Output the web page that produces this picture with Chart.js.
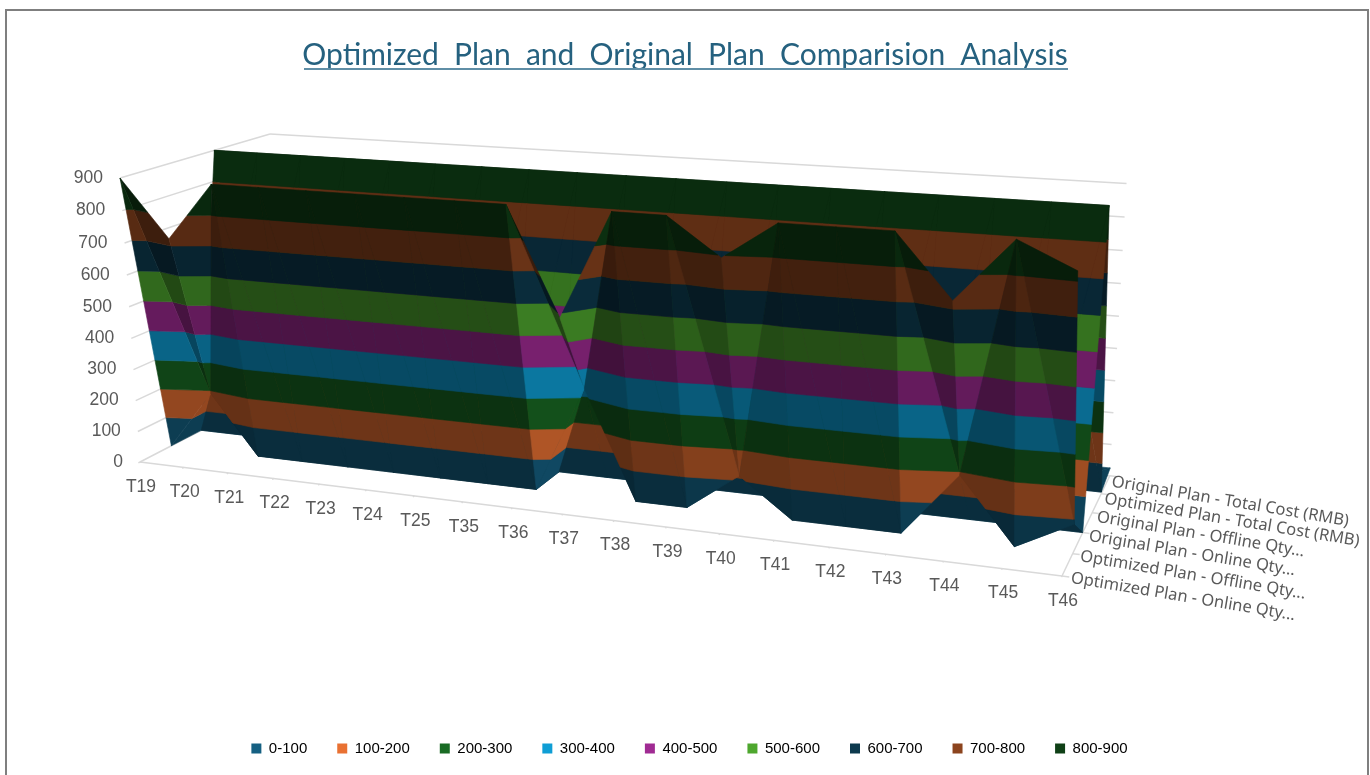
<!DOCTYPE html>
<html>
<head>
<meta charset="utf-8">
<title>Optimized Plan and Original Plan Comparision Analysis</title>
<script src="https://cdn.jsdelivr.net/npm/chart.js@4/dist/chart.umd.min.js"></script>
<style>
    html, body { margin: 0; padding: 0; background: #fff; overflow: hidden; }
    #frame { position: absolute; left: 5px; top: 9px; width: 1360px; height: 790px; border: 2px solid #7f7f7f; }
    #chart { position: absolute; left: 0; top: 0; }
</style>
</head>
<body>
<div id="frame"></div>
<canvas id="chart" width="1370" height="775"></canvas>
<script>
// Chart data
const categories = ["T19", "T20", "T21", "T22", "T23", "T24", "T25", "T35", "T36", "T37", "T38", "T39", "T40", "T41", "T42", "T43", "T44", "T45", "T46"];
const seriesNames = [
    "Optimized Plan - Online Qty...",
    "Optimized Plan - Offline Qty...",
    "Original Plan - Online Qty...",
    "Original Plan - Offline Qty...",
    "Optimized Plan - Total Cost (RMB)",
    "Original Plan - Total Cost (RMB)"
];
const optimizedOnline = [900, 724, 900, 900, 900, 900, 900, 900, 900, 585, 900, 900, 793, 900, 900, 900, 725, 900, 829];
const optimizedOffline = [0, 190, 0, 0, 0, 0, 0, 0, 0, 330, 0, 0, 115, 0, 0, 0, 190, 0, 85];
const originalOnline = [0, 0, 0, 0, 0, 0, 0, 0, 0, 0, 0, 0, 0, 0, 0, 0, 0, 0, 0];
const originalOffline = [900, 900, 900, 900, 900, 900, 900, 900, 900, 900, 900, 900, 900, 900, 900, 900, 900, 900, 900];
const optimizedCost = [5, 5, 5, 5, 5, 5, 5, 5, 5, 5, 5, 5, 5, 5, 5, 5, 5, 5, 5];
const originalCost = [25, 25, 25, 25, 25, 25, 25, 25, 25, 25, 25, 25, 25, 25, 25, 25, 25, 25, 25];
const valueTicks = [0, 100, 200, 300, 400, 500, 600, 700, 800, 900];
const bandLabels = ["0-100", "100-200", "200-300", "300-400", "400-500", "500-600", "600-700", "700-800", "800-900"];
const bandColors = ["#156082", "#E97132", "#196B24", "#0F9ED5", "#A02B93", "#4EA72E", "#0D3A4E", "#8C441E", "#0F4016"];

const surface = [optimizedOnline, optimizedOffline, originalOnline, originalOffline, optimizedCost, originalCost];
const zMax = valueTicks[valueTicks.length - 1];

// Box perspective: front-left, front-right, back-left floor corners and top of the front-left edge
const cornerA = [140, 462], cornerB = [1062, 576], cornerD = [283, 388], cornerE = [120, 178];
const weightB = 0.847, weightD = 1.124, weightE = 0.964;

// catPos: 0..n-1 along categories, serPos: 0..5 front to back, z in value units
function project(catPos, serPos, z) {
    const u = catPos / (categories.length - 1);
    const v = serPos / (seriesNames.length - 1);
    const w = z / zMax;
    const hw = 1 + u * (weightB - 1) + v * (weightD - 1) + w * (weightE - 1);
    const hx = cornerA[0] + u * (weightB * cornerB[0] - cornerA[0]) + v * (weightD * cornerD[0] - cornerA[0]) + w * (weightE * cornerE[0] - cornerA[0]);
    const hy = cornerA[1] + u * (weightB * cornerB[1] - cornerA[1]) + v * (weightD * cornerD[1] - cornerA[1]) + w * (weightE * cornerE[1] - cornerA[1]);
    return { x: hx / hw, y: hy / hw };
}

// Clip a polygon to one value band
function clipToBand(poly, lo, hi) {
    function clip(points, inside, limit) {
        const out = [];
        points.forEach((p, idx) => {
            const q = points[(idx + 1) % points.length];
            if (inside(p)) out.push(p);
            if (inside(p) !== inside(q)) {
                const t = (limit - p[2]) / (q[2] - p[2]);
                out.push([p[0] + t * (q[0] - p[0]), p[1] + t * (q[1] - p[1]), limit]);
            }
        });
        return out;
    }
    let result = clip(poly, p => p[2] >= lo, lo);
    if (result.length) result = clip(result, p => p[2] <= hi, hi);
    return result;
}

// Rough lighting: slopes rising toward the back are lit, the rest depends on the slope along categories
function facetShade(tri) {
    const [p, q, r] = tri;
    const det = (q[0] - p[0]) * (r[1] - p[1]) - (r[0] - p[0]) * (q[1] - p[1]);
    const slopeCat = ((q[2] - p[2]) * (r[1] - p[1]) - (r[2] - p[2]) * (q[1] - p[1])) / det;
    const slopeSer = ((q[0] - p[0]) * (r[2] - p[2]) - (r[0] - p[0]) * (q[2] - p[2])) / det;
    if (slopeSer > 0) return 0.68;
    return slopeCat > 0 ? 0.47 + 0.00085 * slopeCat : 0.47 + 0.0002 * slopeCat;
}

function shadeColor(hex, factor) {
    const channels = [1, 3, 5].map(i => Math.min(255, Math.round(parseInt(hex.substr(i, 2), 16) * factor)));
    return `rgb(${channels[0]}, ${channels[1]}, ${channels[2]})`;
}

function buildFacets() {
    const facets = [];
    for (let j = surface.length - 2; j >= 0; j--) {
        for (let i = 0; i < categories.length - 1; i++) {
            const a = [i, j, surface[j][i]], b = [i + 1, j, surface[j][i + 1]];
            const c = [i + 1, j + 1, surface[j + 1][i + 1]], d = [i, j + 1, surface[j + 1][i]];
            // the quad is cut along the diagonal with the higher midpoint
            const tris = a[2] + c[2] >= b[2] + d[2] ? [[a, b, c], [a, c, d]] : [[a, b, d], [b, c, d]];
            tris.forEach(tri => {
                const shade = facetShade(tri);
                bandColors.forEach((color, band) => {
                    const poly = clipToBand(tri, band * 100, (band + 1) * 100);
                    if (poly.length < 3) return;
                    facets.push({
                        type: "facet",
                        label: bandLabels[band],
                        data: poly.map(p => project(p[0], p[1], p[2])),
                        backgroundColor: shadeColor(color, shade),
                        clip: false
                    });
                });
            });
        }
    }
    return facets;
}

function gridLine(from, to) {
    return {
        type: "facet",
        label: "grid",
        data: [project(from[0], from[1], from[2]), project(to[0], to[1], to[2])],
        borderColor: "#d9d9d9",
        clip: false
    };
}

function buildGrid() {
    const lastCat = categories.length - 1;
    const lastSer = seriesNames.length - 1;
    const lines = [];
    valueTicks.forEach(z => {
        lines.push(gridLine([0, 0, z], [0, lastSer, z]));
        lines.push(gridLine([0, lastSer, z], [lastCat, lastSer, z]));
    });
    lines.push(gridLine([0, 0, 0], [lastCat, 0, 0]));
    lines.push(gridLine([lastCat, 0, 0], [lastCat, lastSer, 0]));
    categories.forEach((name, i) => lines.push(gridLine([i, 0, 0], [i, -0.05, 0])));
    seriesNames.forEach((name, j) => lines.push(gridLine([lastCat, j, 0], [lastCat + 0.12, j, 0])));
    return lines;
}

// Line dataset drawn as a filled polygon (or a plain stroke for grid lines)
class FacetController extends Chart.LineController {
    draw() {
        const ctx = this._ctx;
        const points = this._cachedMeta.data;
        const dataset = this.getDataset();
        ctx.save();
        ctx.beginPath();
        points.forEach((pt, idx) => (idx ? ctx.lineTo(pt.x, pt.y) : ctx.moveTo(pt.x, pt.y)));
        if (dataset.backgroundColor) {
            ctx.closePath();
            ctx.fillStyle = dataset.backgroundColor;
            ctx.fill();
            // same colour hairline hides the seams between facets
            ctx.strokeStyle = dataset.backgroundColor;
            ctx.lineWidth = 0.6;
            ctx.stroke();
        } else {
            ctx.strokeStyle = dataset.borderColor;
            ctx.lineWidth = 1.5;
            ctx.stroke();
        }
        ctx.restore();
    }
}
FacetController.id = "facet";
FacetController.defaults = Chart.LineController.defaults;
Chart.register(FacetController);

// Title underline and the 3D axis labels
const axisTextPlugin = {
    id: "axisText",
    beforeDraw(chart) {
        chart.ctx.wordSpacing = "7.5px";
        chart.legend.left = 9; // nudges the centred legend row to the right
    },
    afterDatasetsDraw(chart) {
        const ctx = chart.ctx;
        const xs = chart.scales.x;
        const ys = chart.scales.y;
        const toPixel = p => ({ x: xs.getPixelForValue(p.x), y: ys.getPixelForValue(p.y) });
        ctx.save();

        // underline under the title
        ctx.strokeStyle = "#5f8ea6";
        ctx.lineWidth = 2;
        ctx.beginPath();
        ctx.moveTo(304, 69);
        ctx.lineTo(1068, 69);
        ctx.stroke();
        ctx.wordSpacing = "0px";

        ctx.fillStyle = "#595959";
        ctx.font = '17.5px "Liberation Sans"';
        ctx.textBaseline = "middle";

        ctx.textAlign = "right";
        valueTicks.forEach(z => {
            const p = toPixel(project(0, 0, z));
            ctx.fillText(String(z), p.x - 17, p.y);
        });

        ctx.textAlign = "center";
        categories.forEach((name, i) => {
            const p = toPixel(project(i, 0, 0));
            ctx.fillText(name, p.x + 1, p.y + 25);
        });

        ctx.textAlign = "left";
        ctx.font = '16.5px "Noto Sans"';
        seriesNames.forEach((name, j) => {
            const p = toPixel(project(categories.length - 1, j, 0));
            ctx.save();
            ctx.translate(p.x + 9 - 1.4 * j, p.y + 2 + 0.8 * j);
            ctx.rotate(9.5 * Math.PI / 180);
            ctx.fillText(name, 0, 0);
            ctx.restore();
        });
        ctx.restore();
    }
};

// Dataset 0 is painted last, so the far geometry goes at the end of the list
const datasets = buildGrid().concat(buildFacets()).reverse();

const chart = new Chart(document.getElementById("chart"), {
    type: "facet",
    data: { datasets: datasets },
    plugins: [axisTextPlugin],
    options: {
        responsive: false,
        animation: false,
        events: [],
        showLine: false,
        pointRadius: 0,
        layout: { padding: { bottom: 9 } },
        scales: {
            x: { type: "linear", display: false, min: 0, max: 1370 },
            y: { type: "linear", display: false, reverse: true, min: 0, max: 775 }
        },
        plugins: {
            tooltip: { enabled: false },
            title: {
                display: true,
                text: "Optimized Plan and Original Plan Comparision Analysis",
                color: "#25617f",
                font: { family: 'Lato', size: 30, weight: "normal" },
                padding: { top: 37, bottom: 10 }
            },
            legend: {
                display: true,
                position: "bottom",
                onClick: null,
                labels: {
                    color: "#595959",
                    font: { family: '"Liberation Sans"', size: 15 },
                    boxWidth: 10,
                    boxHeight: 10,
                    padding: 30,
                    generateLabels: () => bandLabels.map((text, idx) => ({
                        text: text,
                        fillStyle: bandColors[idx],
                        strokeStyle: bandColors[idx],
                        lineWidth: 0,
                        hidden: false,
                        datasetIndex: idx
                    }))
                }
            }
        }
    }
});

// Scale values are page positions, so line the ranges up with the final chart area
chart.options.scales.y.min = chart.chartArea.top;
chart.options.scales.y.max = chart.chartArea.bottom;
chart.update();
</script>
</body>
</html>
